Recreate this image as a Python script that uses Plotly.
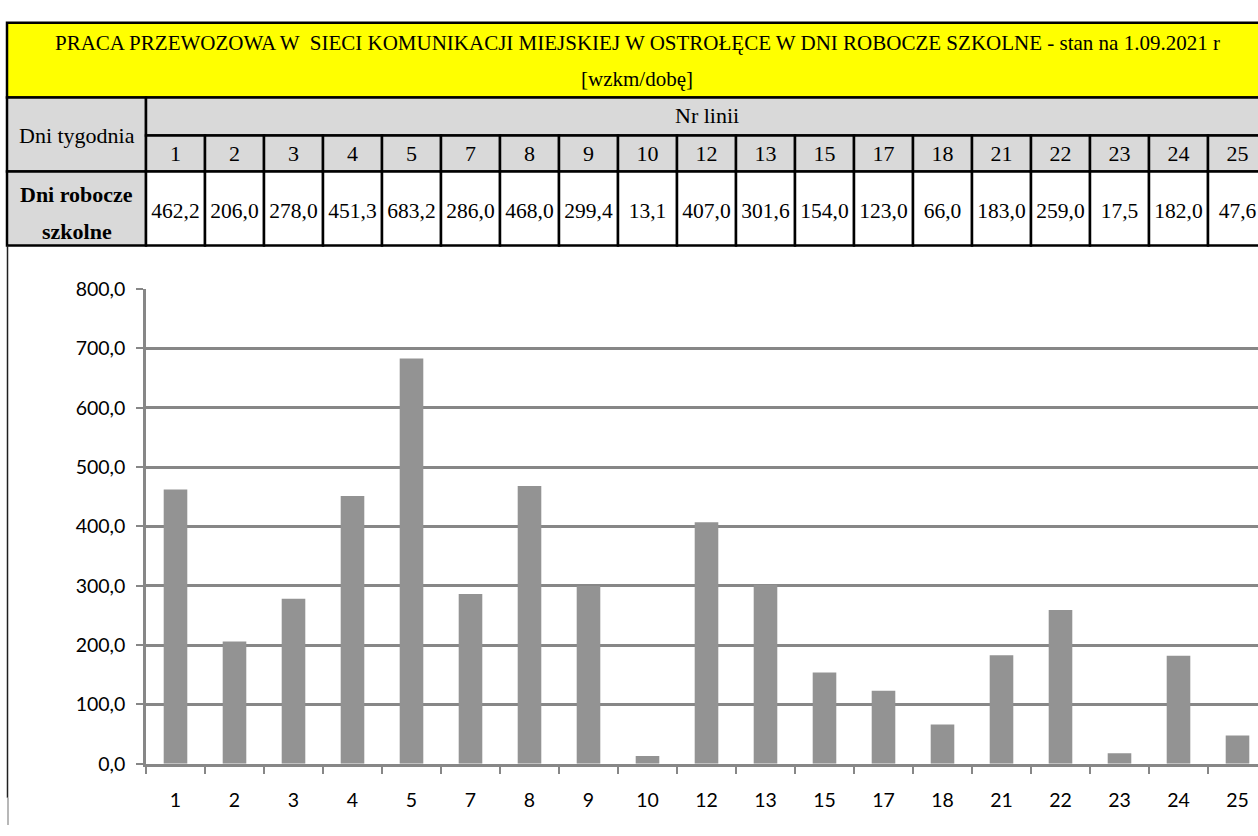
"""bus line transport work - table and bar chart"""
import plotly.graph_objects as go

# data
lines = ["1", "2", "3", "4", "5", "7", "8", "9", "10", "12", "13", "15",
         "17", "18", "21", "22", "23", "24", "25"]
values = [462.2, 206.0, 278.0, 451.3, 683.2, 286.0, 468.0, 299.4, 13.1,
          407.0, 301.6, 154.0, 123.0, 66.0, 183.0, 259.0, 17.5, 182.0, 47.6]
y_ticks = [0, 100, 200, 300, 400, 500, 600, 700, 800]

title_lines = ["PRACA PRZEWOZOWA W  SIECI KOMUNIKACJI MIEJSKIEJ W OSTROŁĘCE "
               "W DNI ROBOCZE SZKOLNE - stan na 1.09.2021 r",
               "[wzkm/dobę]"]
head_left = "Dni tygodnia"
head_lines = "Nr linii"
row_label = ["<b>Dni robocze</b>", "<b>szkolne</b>"]

W, H = 1258, 836
COL = 59            # px per category column
AX_LEFT = 146       # px where the first column starts
n = len(lines)

GRID = "#878787"
BAR = "#939393"
SERIF = "Liberation Serif"
SANS = "Lato"

# table rows in px (y2 axis uses px from the top)
ROW_T, ROW_1, ROW_2, ROW_3, ROW_B = 11, 88, 127, 164, 240
LEFT = -0.5 - (AX_LEFT - 7) / COL      # left edge of the label column
RIGHT = n - 0.5

fig = go.Figure()

fig.add_trace(go.Bar(
    x=lines, y=values,
    marker=dict(color=BAR, line=dict(width=0)),
    xaxis="x", yaxis="y",
    hoverinfo="x+y",
))

# table texts
fig.add_trace(go.Scatter(
    x=list(range(n)), y=[(ROW_2 + ROW_3) / 2 + 2] * n,
    mode="text", text=lines,
    textfont=dict(family=SERIF, size=22, color="black"),
    xaxis="x2", yaxis="y2", hoverinfo="skip", cliponaxis=False,
))
fig.add_trace(go.Scatter(
    x=list(range(n)), y=[(ROW_3 + ROW_B) / 2 + 4] * n,
    mode="text", text=[f"{v:.1f}".replace(".", ",") for v in values],
    textfont=dict(family=SERIF, size=21.5, color="black"),
    xaxis="x2", yaxis="y2", hoverinfo="skip", cliponaxis=False,
))

shapes = []


def cell(x0, x1, y0, y1, fill):
    shapes.append(dict(type="rect", xref="x2", yref="y2",
                       x0=x0, x1=x1, y0=y0, y1=y1, fillcolor=fill,
                       line=dict(color="black", width=2.5), layer="below"))


cell(LEFT, RIGHT, ROW_T, ROW_1, "#ffff00")
cell(LEFT, -0.5, ROW_1, ROW_3, "#d9d9d9")
cell(-0.5, RIGHT, ROW_1, ROW_2, "#d9d9d9")
cell(LEFT, -0.5, ROW_3, ROW_B, "#d9d9d9")
for i in range(n):
    cell(i - 0.5, i + 0.5, ROW_2, ROW_3, "#d9d9d9")
    cell(i - 0.5, i + 0.5, ROW_3, ROW_B, "white")

# left border of the chart box
shapes.append(dict(type="line", xref="paper", yref="paper",
                   x0=7.5 / W, x1=7.5 / W, y0=1 - 808 / H, y1=1 - ROW_B / H,
                   line=dict(color="#202020", width=1.5)))
shapes.append(dict(type="line", xref="paper", yref="paper",
                   x0=8 / W, x1=8 / W, y0=0, y1=1 - 808 / H,
                   line=dict(color="#a0a0a0", width=1.5)))

annotations = [
    dict(text=title_lines[0], x=(LEFT + RIGHT) / 2, y=32, size=21),
    dict(text=title_lines[1], x=(LEFT + RIGHT) / 2, y=69, size=21),
    dict(text=head_lines, x=(n - 1) / 2, y=(ROW_1 + ROW_2) / 2 - 1, size=22),
    dict(text=head_left, x=(LEFT - 0.5) / 2, y=ROW_2, size=22),
    dict(text=row_label[0], x=(LEFT - 0.5) / 2, y=188, size=22),
    dict(text=row_label[1], x=(LEFT - 0.5) / 2, y=226, size=22),
]
for a in annotations:
    a.update(xref="x2", yref="y2", showarrow=False,
             font=dict(family=SERIF, size=a.pop("size"), color="black"))

fig.update_layout(
    width=W, height=H,
    margin=dict(l=0, r=0, t=0, b=0),
    paper_bgcolor="white", plot_bgcolor="white",
    showlegend=False,
    separators=", ",
    bargap=0.6,
    shapes=shapes,
    annotations=annotations,
    xaxis=dict(
        type="category", domain=[AX_LEFT / W, 1],
        range=[-0.5, -0.5 + (W - AX_LEFT) / COL],
        showgrid=False, showline=True, linecolor=GRID, linewidth=2.5,
        ticks="outside", tickson="boundaries", ticklen=8,
        tickcolor=GRID, tickwidth=2,
        tickfont=dict(family=SANS, size=19.5, color="black"),
        ticklabelstandoff=17,
        anchor="y",
    ),
    yaxis=dict(
        domain=[1 - 773 / H, 1 - 285 / H], range=[0, 800],
        tickvals=y_ticks, tickformat=".1f",
        showgrid=True, gridcolor=GRID, gridwidth=2.5,
        showline=True, linecolor=GRID, linewidth=2.5,
        zeroline=False,
        ticks="outside", ticklen=7, tickcolor=GRID, tickwidth=2,
        tickfont=dict(family=SANS, size=19.5, color="black"),
        ticklabelstandoff=7,
        anchor="x",
    ),
    xaxis2=dict(
        domain=[0, 1], range=[-0.5 - AX_LEFT / COL, -0.5 + (W - AX_LEFT) / COL],
        visible=False, anchor="y2",
    ),
    yaxis2=dict(
        domain=[1 - (ROW_B + 2) / H, 1], range=[ROW_B + 2, 0],
        visible=False, anchor="x2",
    ),
)

# drop the default 8px page margin so the figure fills the window exactly
fig.write_html("out.html", config={"displayModeBar": False},
               post_script="document.body.style.margin='0';")
